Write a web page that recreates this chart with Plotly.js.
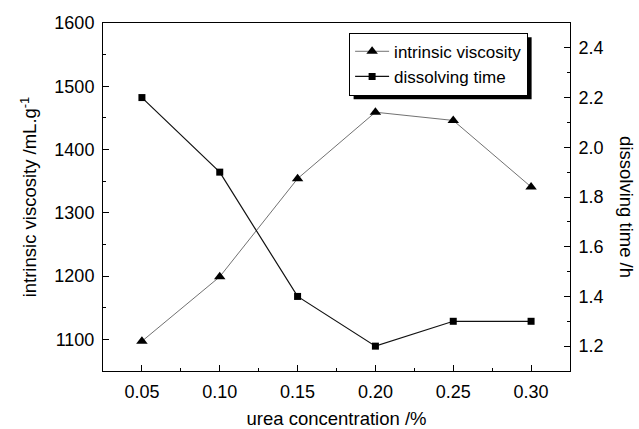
<!DOCTYPE html>
<html><head><meta charset="utf-8">
<script src="https://cdn.plot.ly/plotly-3.0.1.min.js"></script>
<style>html,body{margin:0;padding:0;background:#fff}</style>
</head><body>
<div id="chart" style="width:639px;height:429px"></div>
<script>
const concentration = [0.05, 0.10, 0.15, 0.20, 0.25, 0.30];
const intrinsicViscosity = [1097, 1199, 1354, 1459, 1446, 1341];
const dissolvingTime = [2.2, 1.9, 1.4, 1.2, 1.3, 1.3];
const xTicks = [0.05, 0.10, 0.15, 0.20, 0.25, 0.30];
const xTickText = ['0.05', '0.10', '0.15', '0.20', '0.25', '0.30'];
const yLeftTicks = [1100, 1200, 1300, 1400, 1500, 1600];
const yRightTicks = [1.2, 1.4, 1.6, 1.8, 2.0, 2.2, 2.4];
const yRightText = ['1.2', '1.4', '1.6', '1.8', '2.0', '2.2', '2.4'];

const font = 'Liberation Sans, Arial, sans-serif';

const traces = [
  {
    x: concentration, y: intrinsicViscosity, name: 'intrinsic viscosity',
    mode: 'lines+markers', yaxis: 'y',
    line: {color: '#333', width: 0.7},
    marker: {symbol: 'triangle-up', size: 10, color: '#000'}
  },
  {
    x: concentration, y: dissolvingTime, name: 'dissolving time',
    mode: 'lines+markers', yaxis: 'y2',
    line: {color: '#111', width: 1.2},
    marker: {symbol: 'square', size: 7, color: '#000'}
  }
];

const axisCommon = {
  showgrid: false, zeroline: false, showline: true, linecolor: '#000', linewidth: 1,
  ticks: 'inside', ticklen: 6, tickwidth: 1, tickcolor: '#000',
  tickfont: {family: font, size: 18, color: '#000'}
};

const M = {l: 103, r: 69, t: 23, b: 58};
const W = 639, H = 429;

const layout = {
  width: W, height: H,
  margin: M,
  paper_bgcolor: '#fff', plot_bgcolor: '#fff',
  font: {family: font, color: '#000'},
  showlegend: true,
  legend: {
    x: 0.527, y: 0.972, xanchor: 'left', yanchor: 'top',
    bgcolor: '#fff', bordercolor: '#000', borderwidth: 1,
    font: {family: font, size: 17, color: '#000'},
    tracegroupgap: 0, itemwidth: 34
  },
  xaxis: Object.assign({}, axisCommon, {
    range: [0.025, 0.325], tickvals: xTicks, ticktext: xTickText,
    mirror: true, ticklabelstandoff: 4,
    minor: {ticks: 'inside', ticklen: 3, tickcolor: '#000', dtick: 0.025, showgrid: false},
    title: {text: 'urea concentration /%', font: {family: font, size: 18.5}, standoff: 18}
  }),
  yaxis: Object.assign({}, axisCommon, {
    range: [1050, 1600], tickvals: yLeftTicks, ticklabelstandoff: 4,
    minor: {ticks: 'inside', ticklen: 3, tickcolor: '#000', dtick: 50, showgrid: false},
    title: {text: 'intrinsic viscosity /mL.g<sup>-1</sup>', font: {family: font, size: 18.5}, standoff: 12}
  }),
  yaxis2: Object.assign({}, axisCommon, {
    overlaying: 'y', side: 'right', range: [1.1, 2.5], ticklabelstandoff: 4,
    tickvals: yRightTicks, ticktext: yRightText,
    minor: {ticks: 'inside', ticklen: 3, tickcolor: '#000', dtick: 0.1, showgrid: false}
  }),
  annotations: [{
    text: 'dissolving time /h', textangle: 90, showarrow: false,
    xref: 'paper', yref: 'paper', x: 1.122, y: 0.471, xanchor: 'center', yanchor: 'middle',
    font: {family: font, size: 18.5, color: '#000'}
  }],
  shapes: []
};

const gd = document.getElementById('chart');
Plotly.newPlot(gd, traces, layout, {displayModeBar: false, staticPlot: true}).then(function () {
  const bg = gd.querySelector('.legend .bg');
  if (!bg) return;
  const r = bg.getBoundingClientRect();
  const g = gd.getBoundingClientRect();
  const pw = W - M.l - M.r, ph = H - M.t - M.b;
  const off = 4;
  const x0 = (r.left - g.left + off - M.l) / pw;
  const x1 = (r.right - g.left + off - M.l) / pw;
  const y1 = 1 - (r.top - g.top + off - M.t) / ph;
  const y0 = 1 - (r.bottom - g.top + off - M.t) / ph;
  return Plotly.relayout(gd, {shapes: [{
    type: 'rect', xref: 'paper', yref: 'paper', layer: 'below',
    x0: x0, x1: x1, y0: y0, y1: y1,
    fillcolor: '#000', line: {width: 0}
  }]});
});
</script>
</body></html>
